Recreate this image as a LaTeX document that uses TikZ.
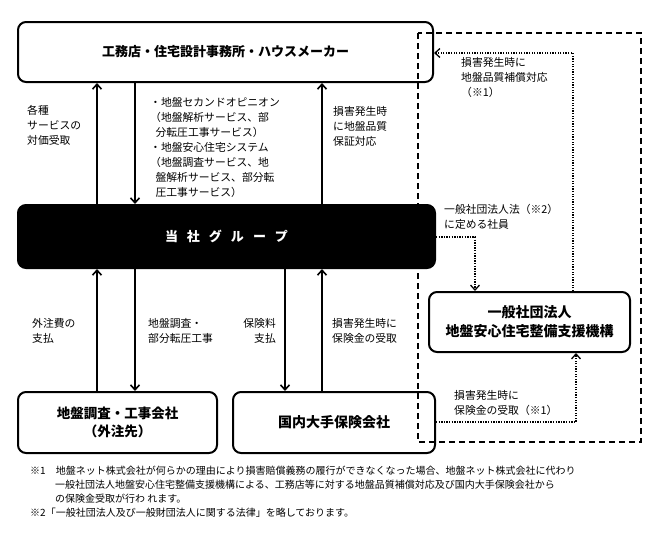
\documentclass[tikz,border=0pt]{standalone}
\usepackage{fontspec}
\setmainfont{Noto Sans CJK JP}
\usepackage{tikz}
\usetikzlibrary{arrows.meta,positioning,calc}

\newcommand{\gapp}{\hspace{9pt}}

\begin{document}
\begin{tikzpicture}[x=1pt,y=1pt,>={Straight Barb[length=5pt,width=9pt]},
    box/.style={draw,line width=2pt,rounded corners=8pt,align=center,
                font=\bfseries\fontsize{13.5}{18}\selectfont},
    lbl/.style={inner sep=0pt,align=left,anchor=north west,
                font=\fontsize{10.8}{15}\selectfont},
    flow/.style={->,line width=1.6pt},
    dotflow/.style={->,line width=1.3pt,dash pattern=on 1.3pt off 1.3pt}]
  \useasboundingbox (0,0) rectangle (660,-539);

  \node[box,minimum width=415pt,minimum height=60pt,
        font=\bfseries\fontsize{13}{18}\selectfont] (firms) at (225.5,-52)
    {工務店・住宅設計事務所・ハウスメーカー};
  \node[box,fill=black,text=white,minimum width=417pt,minimum height=63pt,
        font=\bfseries\fontsize{13}{18}\selectfont] (grp) at (226.5,-236.5)
    {当\gapp 社\gapp グ\gapp ル\gapp ー\gapp プ};
  \node[box,minimum width=199pt,minimum height=61pt] (sub) at (117.5,-422.5)
    {地盤調査・工事会社\\（外注先）};
  \node[box,minimum width=202pt,minimum height=61pt,
        font=\bfseries\fontsize{14}{18}\selectfont] (ins) at (334,-422.5)
    {国内大手保険会社};
  \node[box,minimum width=201pt,minimum height=60pt,
        font=\bfseries\fontsize{14}{19}\selectfont] (org) at (529.5,-322)
    {一般社団法人\\地盤安心住宅整備支援機構};

  % solid flows
  \coordinate (xa) at (97,0);
  \coordinate (xb) at (135,0);
  \coordinate (xc) at (285,0);
  \coordinate (xd) at (322,0);
  \draw[flow] (grp.north -| xa) -- (firms.south -| xa);
  \draw[flow] (firms.south -| xb) -- (grp.north -| xb);
  \draw[flow] (grp.north -| xd) -- (firms.south -| xd);
  \draw[flow] (sub.north -| xa) -- (grp.south -| xa);
  \draw[flow] (grp.south -| xb) -- (sub.north -| xb);
  \draw[flow] (grp.south -| xc) -- (ins.north -| xc);
  \draw[flow] (ins.north -| xd) -- (grp.south -| xd);

  % dashed frame
  \coordinate (frameNW) at (418,-33);
  \coordinate (frameSE) at (641,-442);
  \draw[line width=1.6pt,dash pattern=on 6pt off 4pt] (frameNW) rectangle (frameSE);

  % dotted flows
  \coordinate (d1) at (573,-53);
  \coordinate (d2) at (475,-237);
  \coordinate (d3) at (576,-422);
  \draw[dotflow] (org.north -| d1) |- (firms.east |- d1);
  \draw[dotflow] (grp.east |- d2) -| (org.north -| d2);
  \draw[dotflow] (ins.east |- d3) -| (org.south -| d3);

  \node[lbl] (feeLbl) at (27,-105) {各種\\サービスの\\対価受取};
  \node[lbl] (svcLbl) at (150,-97)
    {・地盤セカンドオピニオン\\（地盤解析サービス、部\\\hspace*{.5em}分転圧工事サービス）\\
     ・地盤安心住宅システム\\（地盤調査サービス、地\\\hspace*{.5em}盤解析サービス、部分転\\
     \hspace*{.5em}圧工事サービス）};
  \node[lbl] (warLbl) at (333,-106) {損害発生時\\に地盤品質\\保証対応};
  \node[lbl] (compLbl) at (461,-57) {損害発生時に\\地盤品質補償対応\\（※1）};
  \node[lbl] (memLbl) at (444,-204) {一般社団法人法（※2）\\に定める社員};
  \node[lbl] (payLbl) at (32,-318) {外注費の\\支払};
  \node[lbl] (workLbl) at (148,-318) {地盤調査・\\部分転圧工事};
  \node[lbl,anchor=north east,align=right] (premLbl) at (276,-318) {保険料\\支払};
  \node[lbl] (claimLbl) at (332,-318) {損害発生時に\\保険金の受取};
  \node[lbl] (orgClaimLbl) at (454,-390) {損害発生時に\\保険金の受取（※1）};

  \node[lbl,font=\fontsize{10}{14}\selectfont] (notes) at (30,-466)
    {※1　地盤ネット株式会社が何らかの理由により損害賠償義務の履行ができなくなった場合、地盤ネット株式会社に代わり\\
     \hspace*{2.5em}一般社団法人地盤安心住宅整備支援機構による、工務店等に対する地盤品質補償対応及び国内大手保険会社から\\
     \hspace*{2.5em}の保険金受取が行わ れます。\\
     ※2「一般社団法人及び一般財団法人に関する法律」を略しております。};
\end{tikzpicture}
\end{document}
